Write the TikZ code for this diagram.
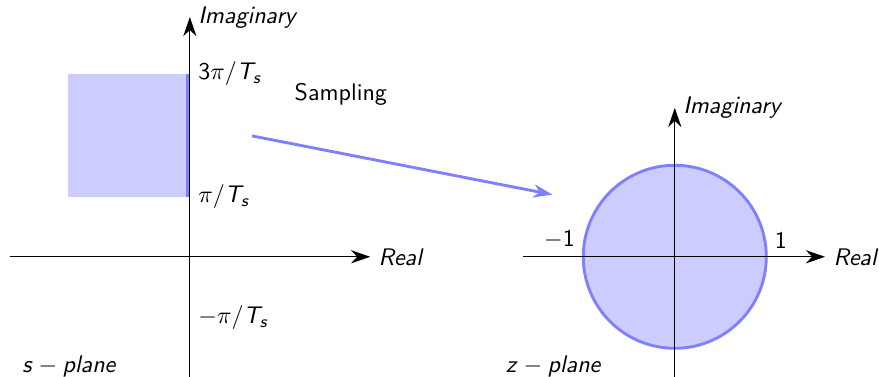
\documentclass[tikz,border=0pt]{standalone}
\usetikzlibrary{arrows.meta}
% sans serif letters and digits in math, greek kept
\DeclareSymbolFont{operators}{OT1}{cmss}{m}{n}
\DeclareSymbolFont{sfletters}{OT1}{cmss}{m}{sl}
\makeatletter
\count@=65
\loop\ifnum\count@<123
  \ifnum\count@<91 \mathcode\count@=\numexpr"7000+\symsfletters*"100+\count@\relax\fi
  \ifnum\count@>96 \mathcode\count@=\numexpr"7000+\symsfletters*"100+\count@\relax\fi
  \advance\count@ 1
\repeat
\makeatother
\begin{document}
\begin{tikzpicture}[>={Stealth[length=8pt, width=5.5pt]}, every node/.style={font=\sffamily}]
        \useasboundingbox (-2.78, -1.76) rectangle (10.09, 3.76);

        % --- S-PLANE ---
        \fill[blue!20] (-1.79, 0.88) rectangle (0, 2.68);
        \draw[very thick, blue!50] (-0.03, 0.88) -- (-0.03, 2.68);
        \draw[->] (-2.64, 0) -- (2.64, 0) node[right] (sreal) {$Real$};
        \draw[->] (0, -1.76) -- (0, 3.51) node[right] (simag) {$Imaginary$};
        \node[right] (sthree) at (0, 2.68) {$3\pi/T_s$};
        \node[right] (sone) at (0, 0.88) {$\pi/T_s$};
        \node[right] (sminus) at (0, -0.89) {$-\pi/T_s$};
        \node (sname) at (-1.76, -1.6) {$s-plane$};

        % --- Z-PLANE ---
        \filldraw[very thick, draw=blue!50, fill=blue!20] (7.10, 0) circle (1.34);
        \draw[->] (4.88, 0) -- (9.30, 0) node[right] (zreal) {$Real$};
        \draw[->] (7.10, -1.76) -- (7.10, 2.18) node[right] (zimag) {$Imaginary$};
        \node[above left] (zleft) at (5.76, 0) {$-1$};
        \node[above right] (zright) at (8.44, 0) {$1$};
        \node (zname) at (5.33, -1.61) {$z-plane$};

        % Mapping
        \node (samp) at (2.21, 2.38) {Sampling};
        \coordinate (sfrom) at (0.91, 1.77);
        \coordinate (zto) at (5.31, 0.91);
        \draw[->, very thick, blue!50] (sfrom) -- (zto);

\end{tikzpicture}
\end{document}
